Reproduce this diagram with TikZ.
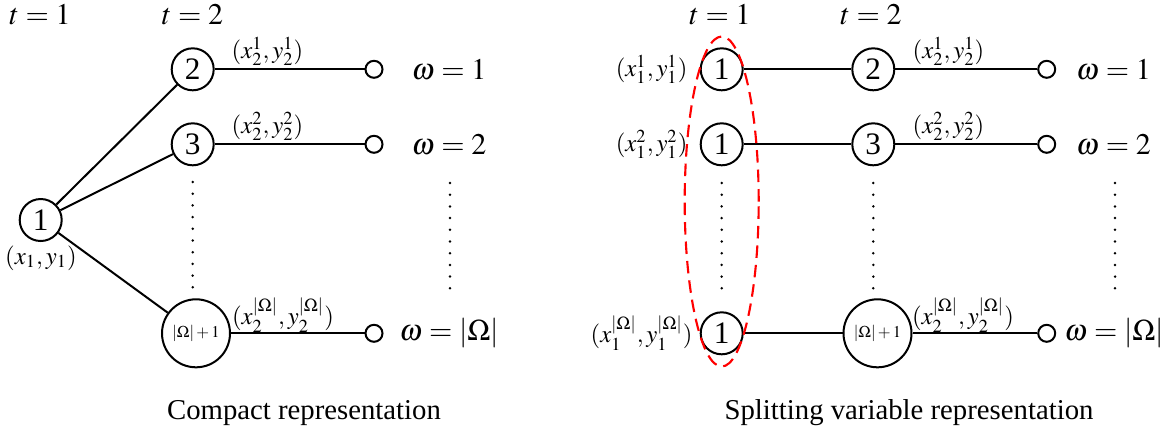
\documentclass[tikz,border=0pt]{standalone}
\usepackage{mathptmx}
\usepackage{fontspec}
\setmainfont{Liberation Serif}
\usetikzlibrary{calc}
\begin{document}
\begin{tikzpicture}[x=0.4pt,y=-0.4pt,
  big/.style={font=\fontsize{12}{14}\selectfont},
  captext/.style={font=\fontsize{11.5}{14}\selectfont},
  lab/.style={font=\fontsize{9.9}{12}\selectfont, inner sep=0pt},
  st/.style={circle, draw, line width=0.8pt, minimum size=16.8pt, inner sep=0pt, font=\fontsize{12.5}{14}\selectfont},
  stbig/.style={circle, draw, line width=0.8pt, minimum size=27.2pt, inner sep=0pt, font=\fontsize{6.6}{8}\selectfont},
  leaf/.style={circle, draw, line width=0.8pt, minimum size=6.8pt, inner sep=0pt},
  edge/.style={line width=0.8pt},
  redell/.style={draw=red, line width=0.85pt, dash pattern=on 5pt off 2.8pt},
  dotcol/.style={line width=1.1pt, line cap=round, dash pattern=on 0pt off 4.68pt}
]
\useasboundingbox (0,0) rectangle (1167,436);

% ---------- Left panel ----------
\node[big] (tl1) at (40,15) {$t=1$};
\node[big] (tl2) at (192.5,15) {$t=2$};

\node[st] (L1) at (40.7,220) {1};
\node[st] (L2) at (192.7,69.3) {2};
\node[st] (L3) at (192.7,144.3) {3};
\node[stbig] (LO) at (196,333.3) {$|\Omega|+1$};

\node[leaf] (LE1) at (374,69.3) {};
\node[leaf] (LE2) at (374,144.3) {};
\node[leaf] (LEO) at (374,333.3) {};

\draw[edge] (L1) -- (L2);
\draw[edge] (L1) -- (L3);
\draw[edge] (L1) -- (LO);
\draw[edge] (L2) -- (LE1);
\draw[edge] (L3) -- (LE2);
\draw[edge] (LO) -- (LEO);

\node[big] (wl1) at (449,70) {$\omega=1$};
\node[big] (wl2) at (449,145) {$\omega=2$};
\node[big] (wlO) at (449,333) {$\omega=|\Omega|$};

\node[lab] (xl1) at (41,258) {$(x_1,y_1)$};
\node[lab] (el1) at (267.5,51) {$(x_2^1,y_2^1)$};
\node[lab] (el2) at (267.5,126) {$(x_2^2,y_2^2)$};
\node[lab] (elO) at (283,315) {$(x_2^{|\Omega|},y_2^{|\Omega|})$};

\draw[dotcol] (192.7,182) -- (192.7,290);
\draw[dotcol] (450,183) -- (450,298);

\node[captext] (capl) at (304,413) {Compact representation};

% ---------- Right panel ----------
\node[big] (tr1) at (720,15) {$t=1$};
\node[big] (tr2) at (871,15) {$t=2$};

\node[st] (R1a) at (721.7,69.3) {1};
\node[st] (R1b) at (721.7,144.3) {1};
\node[st] (R1c) at (721.7,333.3) {1};
\node[st] (R2) at (873.3,69.3) {2};
\node[st] (R3) at (873.3,144.3) {3};
\node[stbig] (RO) at (877.5,333.3) {$|\Omega|+1$};

\node[leaf] (RE1) at (1046.7,69.3) {};
\node[leaf] (RE2) at (1046.7,144.3) {};
\node[leaf] (REO) at (1046.7,333.3) {};

\draw[edge] (R1a) -- (R2);
\draw[edge] (R1b) -- (R3);
\draw[edge] (R1c) -- (RO);
\draw[edge] (R2) -- (RE1);
\draw[edge] (R3) -- (RE2);
\draw[edge] (RO) -- (REO);

\node[big] (wr1) at (1113.5,70) {$\omega=1$};
\node[big] (wr2) at (1113.5,145) {$\omega=2$};
\node[big] (wrO) at (1114,333) {$\omega=|\Omega|$};

\node[lab, anchor=east] (xr1) at (688,69.3) {$(x_1^1,y_1^1)$};
\node[lab, anchor=east] (xr2) at (688,144.3) {$(x_1^2,y_1^2)$};
\node[lab, anchor=east] (xrO) at (693,333.3) {$(x_1^{|\Omega|},y_1^{|\Omega|})$};

\node[lab] (er1) at (948.5,51) {$(x_2^1,y_2^1)$};
\node[lab] (er2) at (948.5,126) {$(x_2^2,y_2^2)$};
\node[lab] (erO) at (963,315) {$(x_2^{|\Omega|},y_2^{|\Omega|})$};

\draw[dotcol] (721.7,183) -- (721.7,298);
\draw[dotcol] (873.3,183) -- (873.3,290);
\draw[dotcol] (1115,183) -- (1115,298);

\draw[redell] (721.7,201.5) ellipse [x radius=14.8pt, y radius=66pt];

\node[captext] (capr) at (909,413) {Splitting variable representation};
\end{tikzpicture}
\end{document}
